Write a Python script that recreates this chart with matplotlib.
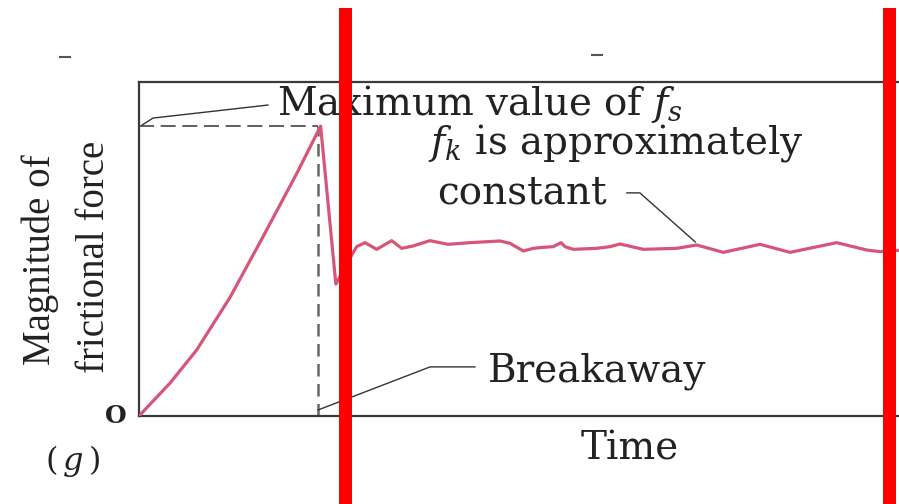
import matplotlib
matplotlib.use("Agg")
import matplotlib.pyplot as plt
from matplotlib.lines import Line2D

# ---------------- data ----------------
# time axis runs 0..100 (arbitrary units), force 0..100 (arbitrary units)
static_time = [0.0, 4.1, 7.6, 12.0, 16.3, 20.8, 23.9]
static_force = [0.0, 9.9, 19.8, 35.6, 53.6, 72.8, 86.8]

drop_time = [23.9, 25.9, 28.0]
drop_force = [86.8, 39.5, 48.2]

kinetic_time = [28.0, 28.64, 29.74, 31.28, 33.25, 34.57, 36.05, 38.29, 40.66,
                43.55, 47.5, 48.82, 50.57, 51.88, 53.20, 54.51, 55.53, 56.05,
                57.14, 60.22, 61.97, 63.29, 66.36, 70.75, 73.38, 76.88, 81.71,
                85.66, 91.80, 95.75, 97.5, 100.0]
kinetic_force = [48.2, 50.7, 51.9, 49.9, 52.5, 50.2, 50.9, 52.5, 51.4,
                 51.9, 52.4, 51.7, 49.4, 50.2, 50.5, 50.7, 51.9, 50.7,
                 49.9, 50.2, 50.7, 51.5, 49.9, 50.2, 51.2, 49.0, 51.4,
                 49.0, 51.9, 49.7, 49.2, 49.6]

breakaway_time = 23.5
max_static = 86.8

highlight_spans = [(26.32, 28.03), (97.85, 99.56)]

# ---------------- figure ----------------
W, H = 899, 504
fig = plt.figure(figsize=(W / 100, H / 100), dpi=100)
fig.patch.set_facecolor("white")

ax_left, ax_right, ax_top, ax_bottom = 139, 899, 82, 416
ax = fig.add_axes([ax_left / W, (H - ax_bottom) / H,
                   (ax_right - ax_left) / W, (ax_bottom - ax_top) / H])
ax.set_xlim(0, 100)
ax.set_ylim(0, 100)
ax.set_xticks([])
ax.set_yticks([])
for s in ["left", "bottom", "top"]:
    ax.spines[s].set_color("#3a3a3a")
    ax.spines[s].set_linewidth(1.6)
ax.spines["right"].set_visible(False)

curve_color = "#d65578"
text_color = "#222222"
serif = "DejaVu Serif"
plt.rcParams["mathtext.fontset"] = "dejavuserif"

# curve
ax.plot(static_time + drop_time[1:] + kinetic_time[1:],
        static_force + drop_force[1:] + kinetic_force[1:],
        color=curve_color, lw=2.3, solid_joinstyle="round",
        solid_capstyle="round", zorder=3)

# dashed guides
ax.plot([0, breakaway_time], [max_static, max_static], color="#444444",
        lw=1.2, dashes=(9, 4), zorder=2)
ax.plot([breakaway_time, breakaway_time], [0, max_static], color="#666666",
        lw=1.8, dashes=(5, 3), zorder=2)

# leader lines
lead_kw = dict(color="#333333", lw=1.0, clip_on=False, zorder=2)
ax.plot([0.4, 1.84, 16.97], [87.1, 89.2, 93.1], **lead_kw)
ax.plot([64.2, 65.9, 73.2], [66.8, 66.8, 52.1], **lead_kw)
ax.plot([23.55, 38.3, 44.2], [1.8, 14.7, 14.7], **lead_kw)

fs = 28
ax.text(18.2, 90.1, r"Maximum value of $f_s$", fontsize=fs, family=serif,
        color=text_color, va="baseline", ha="left", clip_on=False)
ax.text(38.0, 78.7, r"$f_k$ is approximately", fontsize=fs, family=serif,
        color=text_color, va="baseline", ha="left", clip_on=False)
ax.text(39.2, 63.5, "constant", fontsize=fs, family=serif,
        color=text_color, va="baseline", ha="left", clip_on=False)
ax.text(45.9, 10.2, "Breakaway", fontsize=fs, family=serif,
        color=text_color, va="baseline", ha="left", clip_on=False)

fig.text(630 / W, 1 - 460 / H, "Time", fontsize=fs, family=serif,
         color=text_color, ha="center", va="baseline")
fig.text(116 / W, 1 - 416 / H, "O", fontsize=18, family=serif,
         fontweight="bold", color=text_color, ha="center", va="center")
fig.text(72 / W, 1 - 461 / H, r"$(\,g\,)$", fontsize=23,
         color=text_color, ha="center", va="center")
fig.text(40 / W, 1 - 260 / H, "Magnitude of", fontsize=28,
         family="Liberation Serif", color=text_color, rotation=90,
         ha="center", va="center")
fig.text(94 / W, 1 - 257 / H, "frictional force", fontsize=28,
         family="Liberation Serif", color=text_color, rotation=90,
         ha="center", va="center")

# small remnants of cropped text at the top edge
for (x0, x1, y) in [(60, 70, 57), (592, 602, 55)]:
    fig.add_artist(Line2D([x0 / W, x1 / W], [1 - y / H, 1 - y / H],
                          color="#555555", lw=1.5))

# red highlight bars
for x0, x1 in highlight_spans:
    ax.axvspan(x0, x1, ymin=(ax_bottom - H) / (ax_bottom - ax_top),
               ymax=(ax_bottom - 8) / (ax_bottom - ax_top),
               color="#ff0000", lw=0, clip_on=False, zorder=5)

fig.savefig("out.png", dpi=100)
